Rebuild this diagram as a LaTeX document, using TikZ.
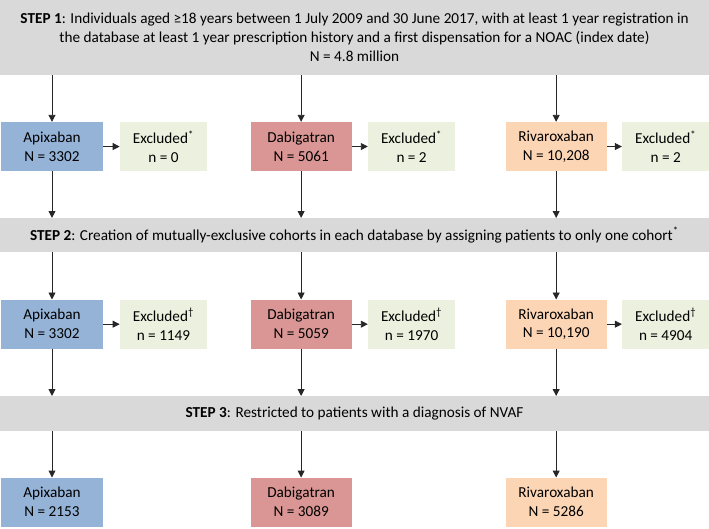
\documentclass[tikz,border=0pt]{standalone}
\usepackage{fontspec}
\setmainfont{Carlito}
\usetikzlibrary{arrows.meta}

\definecolor{apxfill}{HTML}{95B3D7}
\definecolor{dabfill}{HTML}{D99694}
\definecolor{rivfill}{HTML}{FCD5B5}
\definecolor{excfill}{HTML}{EBF1DE}
\definecolor{stepfill}{HTML}{D9D9D9}

\tikzstyle{stepbar} = [rectangle, minimum width=18cm, inner sep=0pt, text centered, align=center, fill=stepfill]
\tikzstyle{drugblock} = [rectangle, minimum width=2.57cm, minimum height=1.24cm, inner sep=0pt, text centered, align=center]
\tikzstyle{apxblock} = [drugblock, fill=apxfill]
\tikzstyle{dabblock} = [drugblock, fill=dabfill]
\tikzstyle{rivblock} = [drugblock, fill=rivfill]
\tikzstyle{exclblock} = [drugblock, minimum width=2.21cm, fill=excfill]
\tikzstyle{flow} = [-{Triangle[length=5pt,width=5pt]}, draw=black!85, line width=0.6pt]

\begin{document}
\begin{tikzpicture}[every node/.style={font=\fontsize{11}{13.7}\selectfont}]
    \useasboundingbox (0,0) rectangle (18,-13.41);

    \node (step1) [stepbar, minimum height=1.9cm] at (9.0,-0.95) {\textbf{STEP 1}: Individuals aged ≥18 years between 1 July 2009 and 30 June 2017, with at least 1 year registration in\\the database at least 1 year prescription history and a first dispensation for a NOAC (index date)\\N = 4.8 million};

    \node (apx1) [apxblock] at (1.32,-3.72) {Apixaban\\N = 3302};
    \node (exa1) [exclblock] at (4.15,-3.72) {Excluded\textsuperscript{*}\\n = 0};
    \node (dab1) [dabblock] at (7.645,-3.72) {Dabigatran\\N = 5061};
    \node (exd1) [exclblock] at (10.45,-3.72) {Excluded\textsuperscript{*}\\n = 2};
    \node (riv1) [rivblock] at (14.12,-3.72) {Rivaroxaban\\N = 10,208};
    \node (exr1) [exclblock] at (16.9,-3.72) {Excluded\textsuperscript{*}\\n = 2};

    \node (step2) [stepbar, minimum height=0.86cm] at (9.0,-5.97) {\textbf{STEP 2}: Creation of mutually-exclusive cohorts in each database by assigning patients to only one cohort\textsuperscript{*}};

    \node (apx2) [apxblock] at (1.32,-8.23) {Apixaban\\N = 3302};
    \node (exa2) [exclblock] at (4.15,-8.23) {Excluded\textsuperscript{\textdagger}\\n = 1149};
    \node (dab2) [dabblock] at (7.645,-8.23) {Dabigatran\\N = 5059};
    \node (exd2) [exclblock] at (10.45,-8.23) {Excluded\textsuperscript{\textdagger}\\n = 1970};
    \node (riv2) [rivblock] at (14.12,-8.23) {Rivaroxaban\\N = 10,190};
    \node (exr2) [exclblock] at (16.9,-8.23) {Excluded\textsuperscript{\textdagger}\\n = 4904};

    \node (step3) [stepbar, minimum height=0.88cm] at (9.0,-10.5) {\textbf{STEP 3}: Restricted to patients with a diagnosis of NVAF};

    \node (apx3) [apxblock] at (1.32,-12.75) {Apixaban\\N = 2153};
    \node (dab3) [dabblock] at (7.645,-12.75) {Dabigatran\\N = 3089};
    \node (riv3) [rivblock] at (14.12,-12.75) {Rivaroxaban\\N = 5286};

    \draw [flow] (step1.south -| apx1.north) -- (apx1.north);
    \draw [flow] (step1.south -| dab1.north) -- (dab1.north);
    \draw [flow] (step1.south -| riv1.north) -- (riv1.north);
    \draw [flow] (apx1.east) -- (exa1.west);
    \draw [flow] (dab1.east) -- (exd1.west);
    \draw [flow] (riv1.east) -- (exr1.west);
    \draw [flow] (apx1.south) -- (apx1.south |- step2.north);
    \draw [flow] (dab1.south) -- (dab1.south |- step2.north);
    \draw [flow] (riv1.south) -- (riv1.south |- step2.north);

    \draw [flow] (step2.south -| apx2.north) -- (apx2.north);
    \draw [flow] (step2.south -| dab2.north) -- (dab2.north);
    \draw [flow] (step2.south -| riv2.north) -- (riv2.north);
    \draw [flow] (apx2.east) -- (exa2.west);
    \draw [flow] (dab2.east) -- (exd2.west);
    \draw [flow] (riv2.east) -- (exr2.west);
    \draw [flow] (apx2.south) -- (apx2.south |- step3.north);
    \draw [flow] (dab2.south) -- (dab2.south |- step3.north);
    \draw [flow] (riv2.south) -- (riv2.south |- step3.north);

    \draw [flow] (step3.south -| apx3.north) -- (apx3.north);
    \draw [flow] (step3.south -| dab3.north) -- (dab3.north);
    \draw [flow] (step3.south -| riv3.north) -- (riv3.north);
\end{tikzpicture}
\end{document}
